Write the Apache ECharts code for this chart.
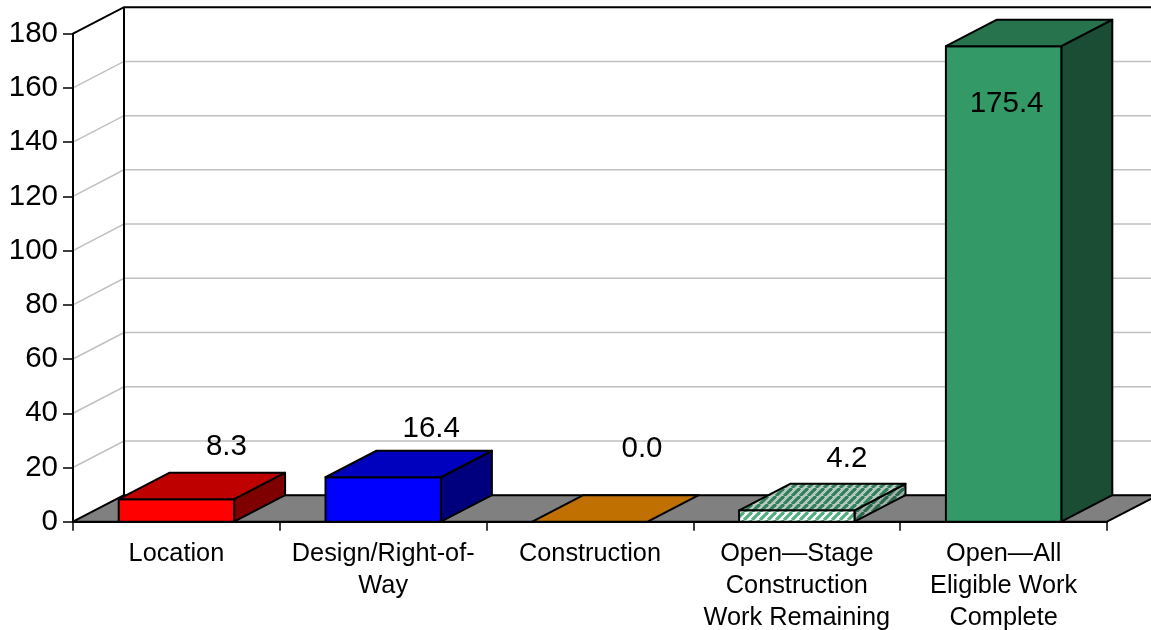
<!DOCTYPE html>
<html>
<head>
<meta charset="utf-8">
<style>html,body{margin:0;padding:0;background:#fff}#c{width:1151px;height:630px}</style>
<script src="https://cdn.jsdelivr.net/npm/echarts@6/dist/echarts.min.js"></script>
</head>
<body>
<div id="c"></div>
<script>
const categories = ['Location', 'Design/Right-of-\nWay', 'Construction', 'Open\u2014Stage\nConstruction\nWork Remaining', 'Open\u2014All\nEligible Work\nComplete'];
const values = [8.3, 16.4, 0.0, 4.2, 175.4];
const valueLabels = ['8.3', '16.4', '0.0', '4.2', '175.4'];
const yTicks = [0, 20, 40, 60, 80, 100, 120, 140, 160, 180];

// styling and layout, not data
const DX = 51, DY = -26.5;
const labelDx = [50, 48, 52, 50, 3];
const labelDy = [-52, -48, -73, -51, 58];

function stripes(a, b) {
  const s = 8, c = document.createElement('canvas');
  c.width = s; c.height = s;
  const g = c.getContext('2d');
  g.fillStyle = a; g.fillRect(0, 0, s, s);
  g.strokeStyle = b; g.lineWidth = 3.2;
  for (let i = -s; i <= 2 * s; i += s) {
    g.beginPath(); g.moveTo(i, s); g.lineTo(i + s, 0); g.stroke();
  }
  return { image: c, repeat: 'repeat' };
}
const faces = [
  { front: '#ff0000', top: '#bf0000', side: '#7f0000' },
  { front: '#0000ff', top: '#0000bf', side: '#00007f' },
  { front: '#ff9600', top: '#bf7000', side: '#7f4b00' },
  { front: stripes('#ffffff', '#4fae7c'), top: stripes('#bcc9c2', '#2f7f58'), side: stripes('#a3b0a9', '#27694a') },
  { front: '#339966', top: '#26734d', side: '#1a4d33' }
];

const edge = { stroke: '#000', lineWidth: 2, lineJoin: 'round' };

function poly(points, fill) {
  return { type: 'polygon', shape: { points }, style: Object.assign({ fill }, edge) };
}

function renderWall(params, api) {
  const y = api.coord([0, api.value(0)])[1];
  const cs = params.coordSys;
  const v = api.value(0);
  const top = v === yTicks[yTicks.length - 1];
  const col = top ? '#000' : '#c0c0c0';
  return {
    type: 'polyline',
    silent: true,
    shape: { points: [[cs.x, y], [cs.x + DX, y + DY], [cs.x + cs.width + DX, y + DY]] },
    style: { fill: null, stroke: col, lineWidth: top ? 2 : 1.5 }
  };
}

function renderFloor(params, api) {
  const cs = params.coordSys;
  const b = cs.y + cs.height;
  return {
    type: 'group',
    silent: true,
    children: [
      { type: 'line', shape: { x1: cs.x + DX, y1: cs.y + DY, x2: cs.x + DX, y2: b + DY }, style: { stroke: '#000', lineWidth: 2 } },
      poly([[cs.x, b], [cs.x + DX, b + DY], [cs.x + cs.width + DX, b + DY], [cs.x + cs.width, b]], '#808080')
    ]
  };
}

function renderBar(params, api) {
  const i = api.value(0);
  const v = api.value(1);
  const base = api.coord([i, 0]);
  const tip = api.coord([i, v]);
  const w = api.size([1, 0])[0] * 0.558;
  const l = base[0] - w / 2, r = base[0] + w / 2, b = base[1], t = tip[1];
  const f = faces[i];
  const children = [];
  if (v > 0) {
    children.push(poly([[r, b], [r + DX, b + DY], [r + DX, t + DY], [r, t]], f.side));
    children.push(poly([[l, b], [r, b], [r, t], [l, t]], f.front));
  }
  children.push(poly([[l, t], [l + DX, t + DY], [r + DX, t + DY], [r, t]], f.top));
  children.push({
    type: 'text',
    z2: 10,
    style: {
      x: base[0] + labelDx[i], y: t + labelDy[i],
      text: valueLabels[i], fill: '#000',
      font: '29.5px "Liberation Sans", Arial, sans-serif',
      align: 'center', verticalAlign: 'middle'
    }
  });
  return { type: 'group', children };
}

const chart = echarts.init(document.getElementById('c'), null, { renderer: 'canvas' });
chart.setOption({
  animation: false,
  backgroundColor: '#fff',
  grid: { left: 73, top: 33.7, width: 1034, height: 488, containLabel: false, outerBoundsMode: 'none' },
  xAxis: {
    type: 'category',
    data: categories,
    z: 20,
    axisLine: { show: true, lineStyle: { color: '#000', width: 2 } },
    axisTick: { show: true, alignWithLabel: false, length: 9, lineStyle: { color: '#000', width: 1.5 } },
    axisLabel: { interval: 0, margin: 16, color: '#000', fontSize: 25.3, lineHeight: 32, fontFamily: '"Liberation Sans", Arial, sans-serif' }
  },
  yAxis: {
    type: 'value', min: 0, max: 180, interval: 20,
    z: 20,
    axisLine: { show: true, lineStyle: { color: '#000', width: 2 } },
    axisTick: { show: true, length: 10, lineStyle: { color: '#000', width: 1.5 } },
    axisLabel: { margin: 15, color: '#000', fontSize: 29.5, fontFamily: '"Liberation Sans", Arial, sans-serif' },
    splitLine: { show: false }
  },
  series: [
    { type: 'custom', coordinateSystem: 'cartesian2d', clip: false, z: 1, silent: true, encode: { y: 0 }, data: yTicks.map(v => [v]), renderItem: renderWall },
    { type: 'custom', coordinateSystem: 'cartesian2d', clip: false, z: 2, silent: true, data: [[0]], renderItem: renderFloor },
    { type: 'custom', coordinateSystem: 'cartesian2d', clip: false, z: 3, encode: { x: 0, y: 1 }, data: values.map((v, i) => [i, v]), renderItem: renderBar }
  ]
});
</script>
</body>
</html>
